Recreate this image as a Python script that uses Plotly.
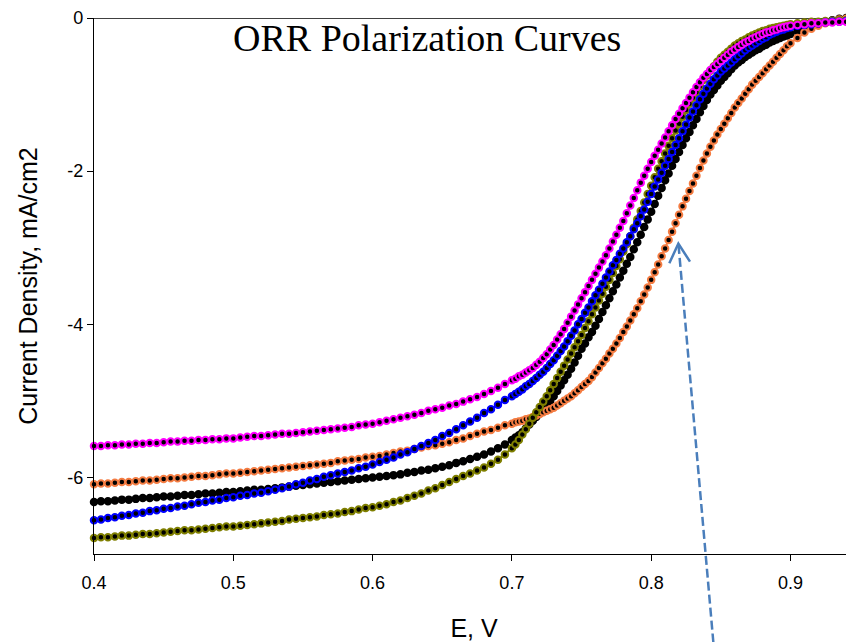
import plotly.graph_objects as go

# Potential grid (V)
E = [
    0.400, 0.405, 0.410, 0.415, 0.420, 0.425, 0.430, 0.435, 0.440, 0.445,
    0.450, 0.455, 0.460, 0.465, 0.470, 0.475, 0.480, 0.485, 0.490, 0.495,
    0.500, 0.505, 0.510, 0.515, 0.520, 0.525, 0.530, 0.535, 0.540, 0.545,
    0.550, 0.555, 0.560, 0.565, 0.570, 0.575, 0.580, 0.585, 0.590, 0.595,
    0.600, 0.605, 0.610, 0.615, 0.620, 0.625, 0.630, 0.635, 0.640, 0.645,
    0.650, 0.655, 0.660, 0.665, 0.670, 0.675, 0.680, 0.685, 0.690, 0.695,
    0.700,
    0.7025, 0.7050, 0.7075, 0.7100, 0.7125, 0.7150, 0.7175, 0.7200, 0.7225, 0.7250,
    0.7275, 0.7300, 0.7325, 0.7350, 0.7375, 0.7400, 0.7425, 0.7450, 0.7475, 0.7500,
    0.7525, 0.7550, 0.7575, 0.7600, 0.7625, 0.7650, 0.7675, 0.7700, 0.7725, 0.7750,
    0.7775, 0.7800, 0.7825, 0.7850, 0.7875, 0.7900, 0.7925, 0.7950, 0.7975, 0.8000,
    0.8025, 0.8050, 0.8075, 0.8100, 0.8125, 0.8150, 0.8175, 0.8200, 0.8225, 0.8250,
    0.8275, 0.8300, 0.8325, 0.8350, 0.8375, 0.8400, 0.8425, 0.8450, 0.8475, 0.8500,
    0.8525, 0.8550, 0.8575, 0.8600, 0.8625, 0.8650, 0.8675, 0.8700, 0.8725, 0.8750,
    0.8775, 0.8800, 0.8825, 0.8850, 0.8875, 0.8900, 0.8925, 0.8950, 0.8975, 0.9000,
    0.905, 0.910, 0.915, 0.920, 0.925, 0.930, 0.935, 0.940, 0.945,
]

# Current density (mA/cm2) per catalyst curve
magenta_curve = [
    -5.59, -5.59, -5.58, -5.58, -5.57, -5.57, -5.56, -5.56, -5.55, -5.55,
    -5.54, -5.53, -5.53, -5.52, -5.52, -5.51, -5.51, -5.50, -5.50, -5.49,
    -5.49, -5.48, -5.47, -5.46, -5.46, -5.45, -5.44, -5.43, -5.43, -5.42,
    -5.41, -5.40, -5.39, -5.38, -5.37, -5.36, -5.35, -5.34, -5.32, -5.31,
    -5.30, -5.28, -5.26, -5.24, -5.22, -5.20, -5.18, -5.16, -5.13, -5.11,
    -5.09, -5.06, -5.04, -5.01, -4.98, -4.95, -4.91, -4.87, -4.83, -4.78,
    -4.73,
    -4.71, -4.68, -4.66, -4.63, -4.60, -4.57, -4.53, -4.49, -4.44, -4.39,
    -4.33, -4.27, -4.20, -4.13, -4.06, -3.98, -3.90, -3.82, -3.74, -3.66,
    -3.58, -3.50, -3.42, -3.34, -3.26, -3.18, -3.10, -3.01, -2.92, -2.83,
    -2.74, -2.65, -2.55, -2.45, -2.35, -2.25, -2.15, -2.06, -1.97, -1.88,
    -1.80, -1.72, -1.64, -1.56, -1.48, -1.40, -1.32, -1.25, -1.18, -1.11,
    -1.04, -0.97, -0.90, -0.84, -0.78, -0.73, -0.68, -0.64, -0.60, -0.56,
    -0.52, -0.48, -0.44, -0.41, -0.38, -0.35, -0.32, -0.30, -0.27, -0.25,
    -0.23, -0.21, -0.19, -0.18, -0.16, -0.15, -0.13, -0.12, -0.11, -0.10,
    -0.09, -0.08, -0.07, -0.07, -0.06, -0.06, -0.05, -0.05, -0.05,
]

olive_curve = [
    -6.79, -6.78, -6.78, -6.77, -6.76, -6.76, -6.75, -6.74, -6.74, -6.73,
    -6.72, -6.71, -6.70, -6.69, -6.69, -6.68, -6.67, -6.66, -6.65, -6.64,
    -6.64, -6.63, -6.62, -6.61, -6.60, -6.59, -6.58, -6.57, -6.55, -6.54,
    -6.53, -6.52, -6.51, -6.49, -6.48, -6.47, -6.45, -6.44, -6.42, -6.40,
    -6.39, -6.37, -6.35, -6.32, -6.30, -6.27, -6.24, -6.21, -6.17, -6.14,
    -6.10, -6.06, -6.02, -5.98, -5.95, -5.91, -5.87, -5.82, -5.77, -5.70,
    -5.62,
    -5.57, -5.51, -5.44, -5.37, -5.30, -5.22, -5.15, -5.08, -5.01, -4.94,
    -4.86, -4.78, -4.70, -4.62, -4.54, -4.46, -4.38, -4.30, -4.22, -4.14,
    -4.05, -3.96, -3.87, -3.78, -3.69, -3.60, -3.51, -3.42, -3.33, -3.24,
    -3.15, -3.05, -2.95, -2.85, -2.74, -2.63, -2.52, -2.41, -2.30, -2.19,
    -2.08, -1.97, -1.87, -1.77, -1.67, -1.57, -1.47, -1.38, -1.29, -1.20,
    -1.12, -1.04, -0.97, -0.89, -0.81, -0.75, -0.69, -0.63, -0.57, -0.52,
    -0.48, -0.44, -0.40, -0.36, -0.33, -0.30, -0.28, -0.25, -0.23, -0.21,
    -0.19, -0.17, -0.16, -0.14, -0.13, -0.12, -0.11, -0.10, -0.09, -0.08,
    -0.07, -0.06, -0.05, -0.05, -0.04, -0.04, -0.03, -0.03, -0.03,
]

blue_curve = [
    -6.56, -6.55, -6.53, -6.52, -6.50, -6.49, -6.47, -6.46, -6.44, -6.43,
    -6.41, -6.40, -6.38, -6.37, -6.35, -6.33, -6.32, -6.30, -6.29, -6.27,
    -6.26, -6.24, -6.23, -6.21, -6.20, -6.18, -6.16, -6.14, -6.12, -6.09,
    -6.07, -6.04, -6.02, -5.99, -5.97, -5.95, -5.93, -5.91, -5.88, -5.86,
    -5.83, -5.80, -5.77, -5.74, -5.70, -5.67, -5.63, -5.59, -5.55, -5.51,
    -5.46, -5.42, -5.37, -5.32, -5.27, -5.22, -5.16, -5.11, -5.05, -4.99,
    -4.94,
    -4.91, -4.88, -4.85, -4.81, -4.78, -4.74, -4.70, -4.66, -4.62, -4.57,
    -4.52, -4.47, -4.41, -4.35, -4.29, -4.22, -4.15, -4.08, -4.00, -3.93,
    -3.85, -3.78, -3.70, -3.62, -3.55, -3.47, -3.39, -3.31, -3.23, -3.16,
    -3.08, -3.01, -2.93, -2.85, -2.76, -2.68, -2.59, -2.50, -2.40, -2.30,
    -2.20, -2.11, -2.02, -1.93, -1.84, -1.75, -1.66, -1.57, -1.48, -1.39,
    -1.30, -1.22, -1.14, -1.06, -0.99, -0.92, -0.86, -0.80, -0.75, -0.70,
    -0.66, -0.62, -0.58, -0.54, -0.50, -0.46, -0.42, -0.39, -0.36, -0.33,
    -0.30, -0.27, -0.25, -0.22, -0.20, -0.18, -0.16, -0.15, -0.13, -0.12,
    -0.10, -0.09, -0.08, -0.07, -0.06, -0.05, -0.05, -0.04, -0.04,
]

black_curve = [
    -6.32, -6.31, -6.31, -6.30, -6.29, -6.29, -6.28, -6.27, -6.27, -6.26,
    -6.25, -6.25, -6.24, -6.23, -6.23, -6.22, -6.21, -6.21, -6.20, -6.19,
    -6.19, -6.18, -6.17, -6.16, -6.16, -6.15, -6.14, -6.13, -6.12, -6.11,
    -6.10, -6.09, -6.08, -6.07, -6.06, -6.05, -6.04, -6.03, -6.02, -6.01,
    -6.00, -5.99, -5.98, -5.97, -5.96, -5.94, -5.93, -5.91, -5.90, -5.88,
    -5.86, -5.84, -5.81, -5.79, -5.76, -5.73, -5.70, -5.66, -5.62, -5.57,
    -5.51,
    -5.48, -5.45, -5.41, -5.36, -5.31, -5.26, -5.21, -5.16, -5.11, -5.05,
    -5.00, -4.94, -4.87, -4.80, -4.73, -4.66, -4.58, -4.50, -4.41, -4.32,
    -4.25, -4.17, -4.10, -4.02, -3.93, -3.84, -3.75, -3.66, -3.57, -3.48,
    -3.39, -3.30, -3.21, -3.12, -3.02, -2.93, -2.83, -2.73, -2.63, -2.53,
    -2.43, -2.32, -2.22, -2.12, -2.03, -1.93, -1.84, -1.75, -1.66, -1.57,
    -1.49, -1.40, -1.32, -1.23, -1.15, -1.07, -1.00, -0.94, -0.88, -0.82,
    -0.77, -0.72, -0.67, -0.62, -0.58, -0.55, -0.51, -0.48, -0.45, -0.42,
    -0.40, -0.37, -0.35, -0.32, -0.30, -0.28, -0.26, -0.24, -0.23, -0.21,
    -0.17, -0.14, -0.11, -0.08, -0.06, -0.03, -0.01, 0.00, 0.00,
]

orange_curve = [
    -6.09, -6.08, -6.08, -6.07, -6.06, -6.06, -6.05, -6.04, -6.04, -6.03,
    -6.02, -6.01, -6.01, -6.00, -5.99, -5.98, -5.98, -5.97, -5.96, -5.95,
    -5.95, -5.94, -5.93, -5.92, -5.91, -5.90, -5.89, -5.88, -5.87, -5.86,
    -5.85, -5.84, -5.83, -5.82, -5.81, -5.79, -5.78, -5.77, -5.76, -5.74,
    -5.73, -5.72, -5.70, -5.68, -5.66, -5.65, -5.63, -5.61, -5.59, -5.58,
    -5.56, -5.54, -5.51, -5.49, -5.46, -5.43, -5.40, -5.38, -5.35, -5.32,
    -5.30,
    -5.28, -5.27, -5.26, -5.24, -5.23, -5.21, -5.19, -5.17, -5.15, -5.13,
    -5.11, -5.09, -5.06, -5.03, -5.00, -4.97, -4.94, -4.90, -4.86, -4.82,
    -4.78, -4.74, -4.69, -4.63, -4.57, -4.51, -4.45, -4.38, -4.32, -4.25,
    -4.18, -4.10, -4.03, -3.95, -3.87, -3.79, -3.70, -3.61, -3.52, -3.42,
    -3.32, -3.22, -3.11, -3.01, -2.90, -2.79, -2.68, -2.57, -2.46, -2.36,
    -2.26, -2.16, -2.06, -1.96, -1.86, -1.77, -1.68, -1.60, -1.52, -1.45,
    -1.38, -1.31, -1.24, -1.17, -1.11, -1.05, -0.99, -0.93, -0.87, -0.82,
    -0.77, -0.72, -0.67, -0.62, -0.57, -0.52, -0.47, -0.42, -0.37, -0.33,
    -0.26, -0.19, -0.14, -0.10, -0.07, -0.04, -0.02, -0.01, 0.00,
]

series = [
    ("black", black_curve, "#000000"),
    ("orange", orange_curve, "#F47C42"),
    ("olive", olive_curve, "#7F7F00"),
    ("blue", blue_curve, "#0000FF"),
    ("magenta", magenta_curve, "#FF00FF"),
]

x_ticks = [0.4, 0.5, 0.6, 0.7, 0.8, 0.9]
x_tick_labels = ["0.4", "0.5", "0.6", "0.7", "0.8", "0.9"]
y_ticks = [0, -2, -4, -6]
y_tick_labels = ["0", "-2", "-4", "-6"]

fig = go.Figure()
for name, vals, col in series:
    fig.add_trace(go.Scatter(
        x=E, y=vals, name=name, mode="lines+markers",
        line=dict(color=col, width=2),
        marker=dict(symbol="circle", size=6.5, color="#000000",
                    line=dict(color=col, width=2)),
        cliponaxis=False, showlegend=False,
    ))

sans = "Liberation Sans, Arial, sans-serif"
axis_font = dict(family=sans, size=18, color="#000000")

# the page body adds an 8px offset, so the figure is 8px smaller and margins compensate
fig.update_layout(
    width=846, height=634,
    margin=dict(l=86, r=0, t=10, b=88),
    paper_bgcolor="white", plot_bgcolor="white",
    showlegend=False,
    xaxis=dict(
        range=[0.4, 0.9456], tickvals=x_ticks, ticktext=x_tick_labels,
        showgrid=False, zeroline=False, showline=True, linecolor="#000000", linewidth=1.3,
        ticks="outside", ticklen=6, tickwidth=1.2, tickcolor="#000000",
        tickfont=axis_font, ticklabelstandoff=6,
        title=dict(text="E, V", font=dict(family=sans, size=25, color="#000000"), standoff=28),
        automargin=False,
    ),
    yaxis=dict(
        range=[-7, 0], tickvals=y_ticks, ticktext=y_tick_labels,
        showgrid=False, zeroline=False, showline=True, linecolor="#000000", linewidth=1.3,
        ticks="outside", ticklen=6, tickwidth=1.2, tickcolor="#000000",
        tickfont=axis_font,
        title=dict(text="Current Density, mA/cm2", font=dict(family=sans, size=25, color="#000000"), standoff=22),
        automargin=False,
    ),
    shapes=[
        dict(type="line", xref="paper", yref="y", x0=0, x1=1, y0=0, y1=0,
             line=dict(color="#000000", width=1.3), layer="below"),
        # dashed pointer arrow shaft
        dict(type="line", xref="paper", yref="paper",
             x0=0.7691, y0=0.5765, x1=0.8149, y1=-0.1642,
             line=dict(color="#4A7EBB", width=2.5, dash="9px,4px")),
        # open arrowhead
        dict(type="path", xref="paper", yref="paper",
             path="M 0.7570 0.5424 L 0.7689 0.5791 L 0.7842 0.5454",
             line=dict(color="#4A7EBB", width=2.5)),
    ],
    annotations=[
        dict(text="ORR Polarization Curves", xref="paper", yref="paper",
             x=0.4375, y=0.962, xanchor="center", yanchor="middle", showarrow=False,
             font=dict(family="Liberation Serif, Times New Roman, serif", size=38, color="#000000")),
    ],
)

fig.write_html("out.html")
